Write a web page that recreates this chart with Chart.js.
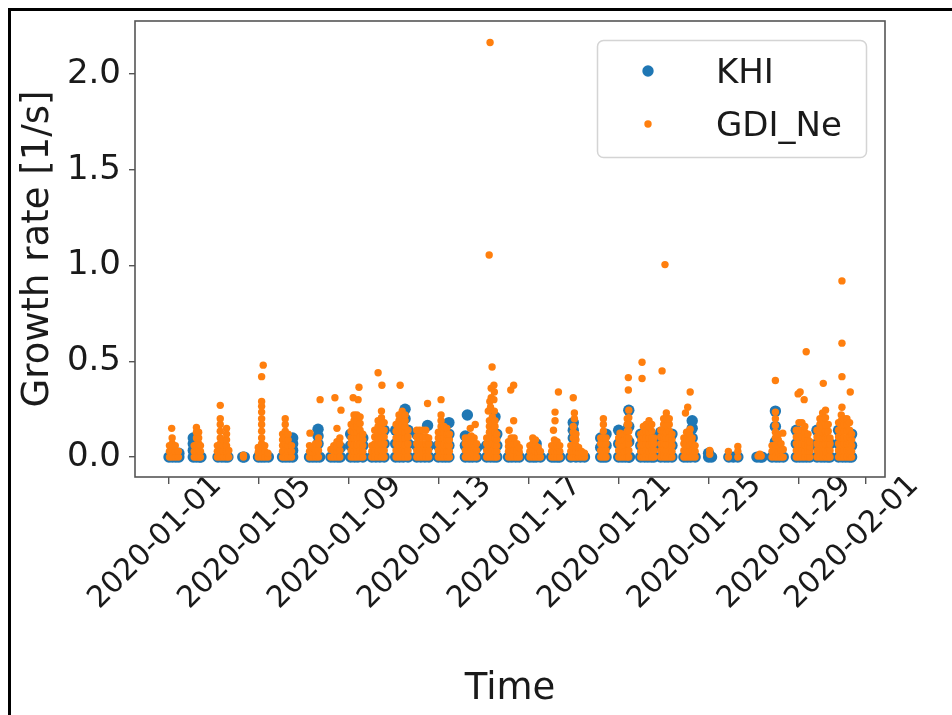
<!DOCTYPE html>
<html>
<head>
<meta charset="utf-8">
<script src="https://cdn.jsdelivr.net/npm/chart.js@4.4.1/dist/chart.umd.min.js"></script>
<style>
  html, body { margin: 0; padding: 0; background: #fff; }
  #wrap { position: relative; width: 952px; height: 715px; overflow: hidden; }
  #frame { position: absolute; left: 8px; top: 8px; right: 0; bottom: 0;
           border-top: 3px solid #000; border-left: 3px solid #000; pointer-events: none; }
</style>
</head>
<body>
<div id="wrap">
  <canvas id="chart" width="952" height="715"></canvas>
  <div id="frame"></div>
</div>
<script>
// time axis is in days since 2020-01-01
const xTickDays = [0, 4, 8, 12, 16, 20, 24, 28, 31];
const xTickLabels = ['2020-01-01', '2020-01-05', '2020-01-09', '2020-01-13', '2020-01-17',
                     '2020-01-21', '2020-01-25', '2020-01-29', '2020-02-01'];
const yTicks = [0, 0.5, 1.0, 1.5, 2.0];

// GDI_Ne: each entry is [day, rate, rate, ...] (points sharing one time)
const gdiColumns = [
  [0.02, 0, 0.03, 0.06], [0.14, 0, 0.035, 0.07, 0.1], [0.28, 0, 0.03, 0.06], [0.42, 0, 0.03], [0.12, 0.15],
  [1.12, 0, 0.03, 0.06], [1.22, 0, 0.03, 0.065, 0.1, 0.13, 0.155], [1.32, 0, 0.035, 0.07, 0.1, 0.13], [1.4, 0, 0.03, 0.06],
  [2.15, 0, 0.03, 0.06], [2.28, 0, 0.035, 0.07, 0.1, 0.135, 0.17, 0.2, 0.27], [2.42, 0, 0.03, 0.06, 0.09],
  [2.56, 0, 0.03, 0.06, 0.09, 0.12, 0.15], [2.66, 0, 0.035],
  [3.31, 0, 0.01],
  [3.97, 0, 0.025, 0.05], [4.12, 0, 0.035, 0.07, 0.1, 0.135, 0.17, 0.2, 0.235, 0.265, 0.29, 0.42], [4.19, 0.48],
  [4.26, 0, 0.03, 0.06], [4.4, 0, 0.02],
  [5.05, 0, 0.03, 0.06, 0.09, 0.12], [5.17, 0, 0.035, 0.07, 0.1, 0.135, 0.17, 0.2], [5.3, 0, 0.03, 0.06, 0.09, 0.12], [5.45, 0, 0.03, 0.06],
  [6.25, 0, 0.03, 0.06], [6.27, 0.125], [6.38, 0, 0.025, 0.05], [6.52, 0, 0.035, 0.07], [6.65, 0, 0.035, 0.07, 0.1], [6.72, 0.3],
  [7.2, 0, 0.04], [7.33, 0, 0.03, 0.06], [7.38, 0.31], [7.47, 0, 0.03, 0.055, 0.08, 0.15], [7.6, 0, 0.035, 0.07, 0.1], [7.65, 0.245],
  [8.1, 0, 0.035, 0.07, 0.1, 0.135, 0.17], [8.19, 0.31], [8.23, 0, 0.03, 0.065, 0.1, 0.13, 0.16, 0.19, 0.22],
  [8.36, 0, 0.03, 0.065, 0.1, 0.13, 0.16, 0.19, 0.22], [8.41, 0.3], [8.45, 0.365],
  [8.5, 0, 0.035, 0.07, 0.105, 0.14, 0.175, 0.21], [8.62, 0, 0.03, 0.06, 0.09, 0.12],
  [9.02, 0, 0.03, 0.06], [9.15, 0, 0.035, 0.07, 0.105, 0.14], [9.3, 0, 0.03, 0.065, 0.1, 0.13, 0.16, 0.19, 0.44],
  [9.45, 0, 0.035, 0.07, 0.1, 0.135, 0.17, 0.205, 0.24], [9.47, 0.375], [9.57, 0, 0.035, 0.07, 0.105, 0.14, 0.18],
  [10.1, 0, 0.035, 0.07, 0.1, 0.135, 0.17], [10.23, 0, 0.03, 0.065, 0.1, 0.13, 0.16, 0.19, 0.22], [10.28, 0.375],
  [10.37, 0, 0.035, 0.07, 0.1, 0.135, 0.17, 0.205, 0.24], [10.5, 0, 0.03, 0.065, 0.1, 0.13, 0.16, 0.19, 0.22],
  [10.63, 0, 0.035, 0.07, 0.105, 0.14],
  [11.02, 0, 0.035, 0.07, 0.105, 0.14], [11.15, 0, 0.035, 0.07, 0.105, 0.14], [11.28, 0, 0.035, 0.07, 0.105, 0.14],
  [11.42, 0, 0.035, 0.07, 0.105, 0.14], [11.5, 0.28], [11.55, 0, 0.035, 0.07, 0.1],
  [11.98, 0, 0.035, 0.07, 0.1, 0.13], [12.1, 0, 0.03, 0.065, 0.1, 0.13, 0.16, 0.19, 0.22, 0.3],
  [12.23, 0, 0.03, 0.065, 0.1, 0.13, 0.16], [12.36, 0, 0.03, 0.06, 0.09, 0.12, 0.15], [12.47, 0, 0.03, 0.06, 0.09, 0.12],
  [13.18, 0, 0.035, 0.07, 0.1], [13.31, 0, 0.035, 0.07, 0.1], [13.4, 0.15], [13.44, 0, 0.035, 0.07, 0.11],
  [13.57, 0, 0.035, 0.07, 0.1], [13.62, 0.17], [13.68, 0, 0.035, 0.07],
  [14.13, 0, 0.035, 0.07, 0.1], [14.2, 0.24], [14.24, 1.055], [14.25, 0, 0.03, 0.065, 0.1, 0.13, 0.16, 0.19],
  [14.27, 0.29], [14.28, 2.165], [14.3, 0.26], [14.33, 0.31, 0.36], [14.37, 0.47],
  [14.38, 0, 0.035, 0.07, 0.105, 0.14, 0.175, 0.21], [14.45, 0.3, 0.375], [14.47, 0.24, 0.34],
  [14.5, 0, 0.03, 0.065, 0.1, 0.13, 0.16, 0.19], [14.58, 0, 0.03, 0.06, 0.09, 0.12],
  [15.1, 0, 0.03, 0.055, 0.08], [15.13, 0.14], [15.2, 0.35], [15.22, 0, 0.035, 0.07, 0.1], [15.33, 0.19, 0.375],
  [15.35, 0, 0.035, 0.07, 0.1], [15.47, 0, 0.035, 0.07], [15.58, 0, 0.025, 0.05],
  [16.05, 0, 0.03, 0.06], [16.18, 0, 0.035, 0.07, 0.1], [16.3, 0, 0.03, 0.06, 0.09], [16.42, 0, 0.025, 0.05], [16.52, 0, 0.03],
  [17.02, 0, 0.03, 0.06], [17.1, 0.14], [17.14, 0, 0.03, 0.06, 0.09], [17.17, 0.19, 0.235],
  [17.26, 0, 0.03, 0.055, 0.08], [17.32, 0.34], [17.38, 0, 0.03, 0.06],
  [17.87, 0, 0.03, 0.06], [17.98, 0, 0.03, 0.065, 0.1, 0.13, 0.16, 0.31], [18.03, 0.2, 0.23],
  [18.1, 0, 0.03, 0.06, 0.09, 0.12], [18.22, 0, 0.025, 0.05], [18.35, 0, 0.03], [18.48, 0, 0.02],
  [19.2, 0, 0.035, 0.07, 0.1], [19.32, 0, 0.035, 0.07, 0.1, 0.135, 0.17, 0.2], [19.44, 0, 0.035, 0.07, 0.1],
  [20.0, 0, 0.035, 0.07, 0.1], [20.06, 0.125], [20.12, 0, 0.03, 0.06, 0.09, 0.12], [20.25, 0, 0.03, 0.06, 0.09, 0.12],
  [20.38, 0, 0.035, 0.07, 0.1, 0.135, 0.17, 0.2], [20.45, 0, 0.035, 0.07, 0.1, 0.135, 0.17, 0.205, 0.245], [20.43, 0.35, 0.415],
  [20.98, 0, 0.03, 0.06, 0.09, 0.12], [21.04, 0.41, 0.495], [21.1, 0, 0.03, 0.065, 0.1, 0.13, 0.16],
  [21.22, 0, 0.035, 0.07, 0.1, 0.135, 0.17], [21.35, 0, 0.03, 0.065, 0.1, 0.13, 0.16, 0.19],
  [21.47, 0, 0.035, 0.07, 0.1, 0.135, 0.17], [21.57, 0, 0.035, 0.07, 0.1],
  [21.87, 0, 0.035, 0.07, 0.105, 0.14], [21.93, 0.45], [22.0, 0, 0.035, 0.07, 0.1, 0.135, 0.17, 0.2], [22.06, 1.005],
  [22.12, 0, 0.035, 0.065, 0.1, 0.13, 0.165, 0.2, 0.23], [22.25, 0, 0.035, 0.07, 0.1, 0.135, 0.17, 0.2],
  [22.37, 0, 0.03, 0.06, 0.09, 0.12],
  [22.9, 0, 0.035, 0.07, 0.1], [22.97, 0.23], [23.02, 0, 0.035, 0.07, 0.1, 0.13], [23.07, 0.26],
  [23.15, 0, 0.03, 0.06, 0.09, 0.12], [23.18, 0.145, 0.34], [23.27, 0, 0.035, 0.07, 0.1], [23.4, 0, 0.03, 0.06],
  [24.05, 0.015, 0.035],
  [24.88, 0, 0.03], [25.3, 0, 0.03, 0.055],
  [26.2, 0.005], [26.28, 0.015], [26.34, 0.005],
  [26.82, 0, 0.03, 0.06], [26.97, 0, 0.035, 0.065, 0.1, 0.13, 0.165, 0.2, 0.235, 0.4], [27.1, 0, 0.03, 0.06, 0.09, 0.12],
  [27.22, 0, 0.035, 0.07], [27.3, 0.125], [27.32, 0, 0.04],
  [27.9, 0, 0.035, 0.07, 0.105, 0.14], [27.98, 0.33], [28.02, 0, 0.035, 0.07, 0.105, 0.14, 0.18], [28.07, 0.34],
  [28.15, 0, 0.035, 0.07, 0.105, 0.14, 0.18], [28.25, 0.3], [28.28, 0, 0.03, 0.065, 0.1, 0.13, 0.16], [28.34, 0.55],
  [28.42, 0, 0.03, 0.06, 0.09, 0.12], [28.5, 0, 0.03, 0.055, 0.08],
  [28.82, 0, 0.035, 0.07, 0.105, 0.14], [28.95, 0, 0.035, 0.07, 0.1, 0.135, 0.17, 0.2],
  [29.07, 0, 0.035, 0.065, 0.1, 0.13, 0.165, 0.2, 0.23], [29.1, 0.385],
  [29.2, 0, 0.035, 0.07, 0.1, 0.135, 0.17, 0.205, 0.245], [29.32, 0, 0.035, 0.07, 0.1, 0.135, 0.17], [29.4, 0, 0.035, 0.07, 0.1],
  [29.78, 0, 0.035, 0.07, 0.105, 0.14, 0.18], [29.9, 0, 0.03, 0.065, 0.1, 0.13, 0.16, 0.19, 0.22], [29.93, 0.26, 0.42, 0.595, 0.92],
  [30.02, 0, 0.035, 0.07, 0.1, 0.135, 0.17, 0.2], [30.15, 0, 0.035, 0.07, 0.1, 0.135, 0.17, 0.2],
  [30.27, 0, 0.035, 0.07, 0.105, 0.14, 0.18], [30.3, 0.34], [30.36, 0, 0.03, 0.06, 0.09, 0.12]
];

// KHI, same layout
const khiColumns = [
  [0.0, 0], [0.15, 0], [0.3, 0], [0.44, 0, 0.02],
  [1.08, 0, 0.035, 0.07, 0.1], [1.22, 0], [1.36, 0], [1.42, 0],
  [2.18, 0], [2.35, 0], [2.5, 0], [2.62, 0],
  [3.28, 0], [3.35, 0],
  [3.98, 0], [4.12, 0], [4.26, 0], [4.42, 0],
  [5.05, 0], [5.2, 0], [5.35, 0], [5.5, 0, 0.035, 0.07, 0.1],
  [6.25, 0], [6.4, 0], [6.55, 0], [6.63, 0.07, 0.11, 0.145], [6.7, 0],
  [7.2, 0], [7.35, 0], [7.5, 0], [7.62, 0, 0.05],
  [8.08, 0, 0.06, 0.12], [8.25, 0], [8.4, 0], [8.62, 0, 0.06, 0.1],
  [9.02, 0], [9.2, 0], [9.38, 0], [9.57, 0, 0.07, 0.14],
  [10.08, 0, 0.07, 0.14], [10.25, 0], [10.42, 0], [10.5, 0.2, 0.25], [10.63, 0, 0.07, 0.14],
  [11.02, 0, 0.06, 0.12], [11.2, 0], [11.38, 0], [11.5, 0.165], [11.56, 0, 0.06],
  [11.98, 0, 0.06], [12.15, 0], [12.3, 0], [12.45, 0, 0.06, 0.12, 0.18],
  [13.18, 0, 0.06, 0.11], [13.27, 0.22], [13.35, 0], [13.5, 0], [13.68, 0, 0.05],
  [14.13, 0, 0.06], [14.3, 0], [14.45, 0], [14.5, 0.21], [14.58, 0, 0.06, 0.12],
  [15.1, 0], [15.25, 0], [15.42, 0], [15.58, 0],
  [16.05, 0], [16.2, 0], [16.33, 0, 0.07], [16.52, 0],
  [17.02, 0], [17.15, 0], [17.28, 0], [17.38, 0],
  [17.87, 0], [17.98, 0.1, 0.14, 0.18], [18.1, 0], [18.3, 0], [18.48, 0],
  [19.2, 0, 0.05, 0.1], [19.32, 0], [19.44, 0, 0.06, 0.12],
  [20.0, 0, 0.07, 0.14], [20.15, 0], [20.3, 0], [20.45, 0, 0.08, 0.16, 0.245], [20.48, 0],
  [20.98, 0, 0.06, 0.12], [21.15, 0], [21.3, 0], [21.45, 0], [21.57, 0, 0.06, 0.1],
  [21.87, 0, 0.07, 0.13], [22.05, 0], [22.2, 0], [22.37, 0, 0.06, 0.12],
  [22.9, 0], [23.05, 0], [23.2, 0], [23.27, 0.1, 0.15, 0.19], [23.4, 0],
  [24.0, 0, 0.02], [24.13, 0],
  [24.9, 0], [25.1, 0], [25.3, 0],
  [26.15, 0], [26.3, 0], [26.38, 0],
  [26.82, 0], [26.97, 0.08, 0.16, 0.24], [27.0, 0], [27.15, 0], [27.32, 0],
  [27.9, 0, 0.07, 0.14], [28.05, 0], [28.2, 0], [28.35, 0], [28.5, 0, 0.06],
  [28.82, 0, 0.07, 0.14], [29.0, 0], [29.15, 0], [29.3, 0], [29.4, 0, 0.07],
  [29.78, 0, 0.07, 0.14], [29.95, 0], [30.1, 0], [30.25, 0], [30.36, 0, 0.06, 0.12]
];

const toPoints = cols => cols.flatMap(([day, ...rates]) => rates.map(r => ({ x: day, y: r })));

const FAMILY = 'DejaVu Sans';
const TEXT = '#1a1a1a';
const AXIS = '#555';

// full box around the plot area, like matplotlib spines
const framePlugin = {
  id: 'frame',
  afterDraw(chart) {
    const { ctx, chartArea: a } = chart;
    ctx.save();
    ctx.strokeStyle = AXIS;
    ctx.lineWidth = 1.6;
    ctx.strokeRect(a.left, a.top, a.right - a.left, a.bottom - a.top);
    ctx.restore();
  }
};

// legend box inside the axes, upper right
const boxLegend = {
  id: 'boxLegend',
  afterDraw(chart) {
    const { ctx, chartArea: a } = chart;
    const x = a.right - 288, y = a.top + 19, w = 269, h = 117;
    ctx.save();
    ctx.beginPath();
    ctx.roundRect(x + 0.5, y + 0.5, w, h, 6);
    ctx.fillStyle = 'rgba(255,255,255,0.85)';
    ctx.fill();
    ctx.strokeStyle = '#d4d4d4';
    ctx.lineWidth = 1.5;
    ctx.stroke();
    const items = [chart.data.datasets[1], chart.data.datasets[0]];
    ctx.font = `34px ${FAMILY}`;
    ctx.textBaseline = 'alphabetic';
    items.forEach((ds, i) => {
      const cy = y + 31 + i * 53;
      ctx.beginPath();
      ctx.arc(x + 51, cy, ds.pointRadius, 0, Math.PI * 2);
      ctx.fillStyle = ds.backgroundColor;
      ctx.fill();
      ctx.fillStyle = TEXT;
      ctx.fillText(ds.label, x + 119, cy + 12);
    });
    ctx.restore();
  }
};

new Chart(document.getElementById('chart'), {
  type: 'scatter',
  data: {
    datasets: [
      { label: 'GDI_Ne', data: toPoints(gdiColumns), backgroundColor: '#ff7f0e',
        borderWidth: 0, pointRadius: 3.7, pointHoverRadius: 3.7 },
      { label: 'KHI', data: toPoints(khiColumns), backgroundColor: '#1f77b4',
        borderWidth: 0, pointRadius: 5.7, pointHoverRadius: 5.7 }
    ]
  },
  options: {
    responsive: false,
    animation: false,
    layout: { padding: { top: 21, right: 67, left: 0, bottom: 0 } },
    plugins: { legend: { display: false }, tooltip: { enabled: false } },
    scales: {
      x: {
        type: 'linear',
        min: -1.512,
        max: 31.845,
        afterBuildTicks: s => { s.ticks = xTickDays.map(v => ({ value: v })); },
        afterFit: s => { s.height = 238; s.paddingLeft = 0; s.paddingRight = 0; },
        ticks: {
          autoSkip: false, minRotation: 45, maxRotation: 45,
          font: { family: FAMILY, size: 30 }, color: TEXT, padding: -16, labelOffset: 48,
          callback: (v, i) => xTickLabels[i]
        },
        grid: { drawOnChartArea: false, drawTicks: true, tickLength: 7, color: AXIS, lineWidth: 1.4 },
        border: { display: false },
        title: { display: true, text: 'Time', font: { family: FAMILY, size: 37 }, color: TEXT, padding: { bottom: 3 } }
      },
      y: {
        min: -0.104,
        max: 2.277,
        afterBuildTicks: s => { s.ticks = yTicks.map(v => ({ value: v })); },
        afterFit: s => { s.width = 135; s.paddingTop = 0; s.paddingBottom = 0; },
        ticks: { font: { family: FAMILY, size: 34 }, color: TEXT, padding: 8, callback: v => v.toFixed(1) },
        grid: { drawOnChartArea: false, drawTicks: true, tickLength: 6, color: AXIS, lineWidth: 1.4 },
        border: { display: false },
        title: { display: true, text: 'Growth rate [1/s]', font: { family: FAMILY, size: 37 }, color: TEXT, padding: { top: 16 } }
      }
    }
  },
  plugins: [framePlugin, boxLegend]
});
</script>
</body>
</html>
